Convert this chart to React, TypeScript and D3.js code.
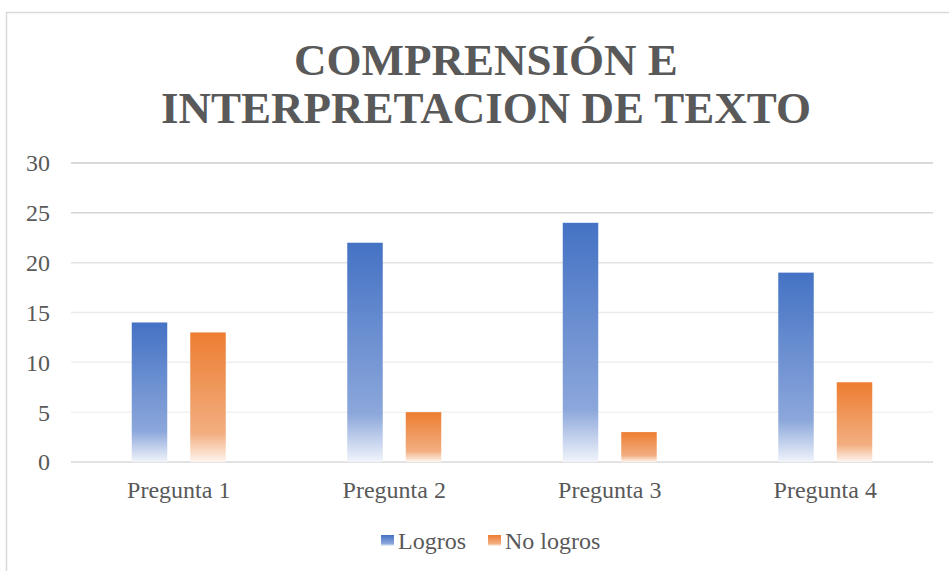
import { useMemo } from 'react'
import * as d3 from 'd3'

const WIDTH = 949
const HEIGHT = 571
const MARGIN = { top: 163, right: 16, bottom: 109, left: 71 }

const TITLE_LINES = ['COMPRENSIÓN E', 'INTERPRETACION DE TEXTO']
const CATEGORIES = ['Pregunta 1', 'Pregunta 2', 'Pregunta 3', 'Pregunta 4']
const SERIES = ['Logros', 'No logros']
const LOGROS = [14, 22, 24, 19]
const NO_LOGROS = [13, 5, 3, 8]
const Y_TICKS = [0, 5, 10, 15, 20, 25, 30]

// gradient stops per series: top colour, mid tint, near-white bottom
const SERIES_COLORS: Record<string, string[]> = {
  'Logros': ['#4472C4', '#8CA7DB', '#F1F4FB'],
  'No logros': ['#ED7D31', '#F2AE80', '#FEF5EF']
}

// grid lines fade out toward the bottom in the original
const GRID_COLORS = ['#d9d9d9', '#f2f2f2', '#efefef', '#eaeaea', '#e2e2e2', '#d6d6d6', '#cdcdcd']

const FONT_STYLE = { fontFamily: "'Liberation Serif', 'Times New Roman', Times, serif" }
const TEXT_COLOR = '#595959'
const LABEL_SIZE = 24

export default function App() {
  const innerWidth = WIDTH - MARGIN.left - MARGIN.right
  const innerHeight = HEIGHT - MARGIN.top - MARGIN.bottom

  const rows = useMemo(
    () => CATEGORIES.map((c, i) => ({ category: c, values: [LOGROS[i], NO_LOGROS[i]] })),
    []
  )

  const xScale = d3.scaleBand().domain(CATEGORIES).range([0, innerWidth]).paddingInner(0).paddingOuter(0)
  const yScale = d3.scaleLinear().domain([0, 30]).range([innerHeight, 0])

  const barWidth = 35.5
  const barGap = 23
  const groupWidth = barWidth * 2 + barGap
  const groupOffset = (xScale.bandwidth() - groupWidth) / 2

  return (
    <svg
      width={WIDTH}
      height={HEIGHT}
      style={{ position: 'absolute', left: 0, top: 0, background: '#fff' }}
    >
      <defs>
        {SERIES.map((s, i) => (
          <linearGradient key={s} id={`grad-${i}`} x1="0" y1="0" x2="0" y2="1">
            <stop offset="0%" stopColor={SERIES_COLORS[s][0]} />
            <stop offset="78%" stopColor={SERIES_COLORS[s][1]} />
            <stop offset="100%" stopColor={SERIES_COLORS[s][2]} />
          </linearGradient>
        ))}
      </defs>

      {/* Chart border */}
      <rect x={6.5} y={12.5} width={980} height={620} fill="none" stroke="#d9d9d9" strokeWidth={1.5} />

      {/* Title */}
      {TITLE_LINES.map((line, i) => (
        <text
          key={line}
          x={486}
          y={75 + i * 48}
          textAnchor="middle"
          fontSize={45}
          fontWeight="bold"
          fill={TEXT_COLOR}
          style={FONT_STYLE}
        >
          {line}
        </text>
      ))}

      <g transform={`translate(${MARGIN.left}, ${MARGIN.top})`}>
        {/* Grid lines */}
        {Y_TICKS.map((tick, i) => (
          <line
            key={tick}
            x1={0}
            x2={innerWidth}
            y1={yScale(tick)}
            y2={yScale(tick)}
            stroke={GRID_COLORS[i]}
            strokeWidth={1.5}
          />
        ))}

        {/* Y axis labels */}
        {Y_TICKS.map(tick => (
          <text
            key={tick}
            x={-21}
            y={yScale(tick)}
            dy="0.35em"
            textAnchor="end"
            fontSize={LABEL_SIZE}
            fill={TEXT_COLOR}
            style={FONT_STYLE}
          >
            {tick}
          </text>
        ))}

        {/* Bars */}
        {rows.map(row => (
          <g key={row.category} transform={`translate(${(xScale(row.category) ?? 0) + groupOffset}, 0)`}>
            {row.values.map((v, j) => (
              <rect
                key={SERIES[j]}
                x={j * (barWidth + barGap)}
                y={yScale(v)}
                width={barWidth}
                height={innerHeight - yScale(v)}
                fill={`url(#grad-${j})`}
              />
            ))}
          </g>
        ))}

        {/* X axis labels */}
        {CATEGORIES.map(c => (
          <text
            key={c}
            x={(xScale(c) ?? 0) + xScale.bandwidth() / 2}
            y={innerHeight + 36}
            textAnchor="middle"
            fontSize={LABEL_SIZE}
            fill={TEXT_COLOR}
            style={FONT_STYLE}
          >
            {c}
          </text>
        ))}
      </g>

      {/* Legend */}
      <g transform="translate(381, 535)">
        {SERIES.map((s, i) => {
          const offset = i === 0 ? 0 : 107
          return (
            <g key={s} transform={`translate(${offset}, 0)`}>
              <rect x={0} y={0} width={13} height={11} fill={`url(#grad-${i})`} />
              <text x={17} y={14} fontSize={LABEL_SIZE} fill={TEXT_COLOR} style={FONT_STYLE}>
                {s}
              </text>
            </g>
          )
        })}
      </g>
    </svg>
  )
}
